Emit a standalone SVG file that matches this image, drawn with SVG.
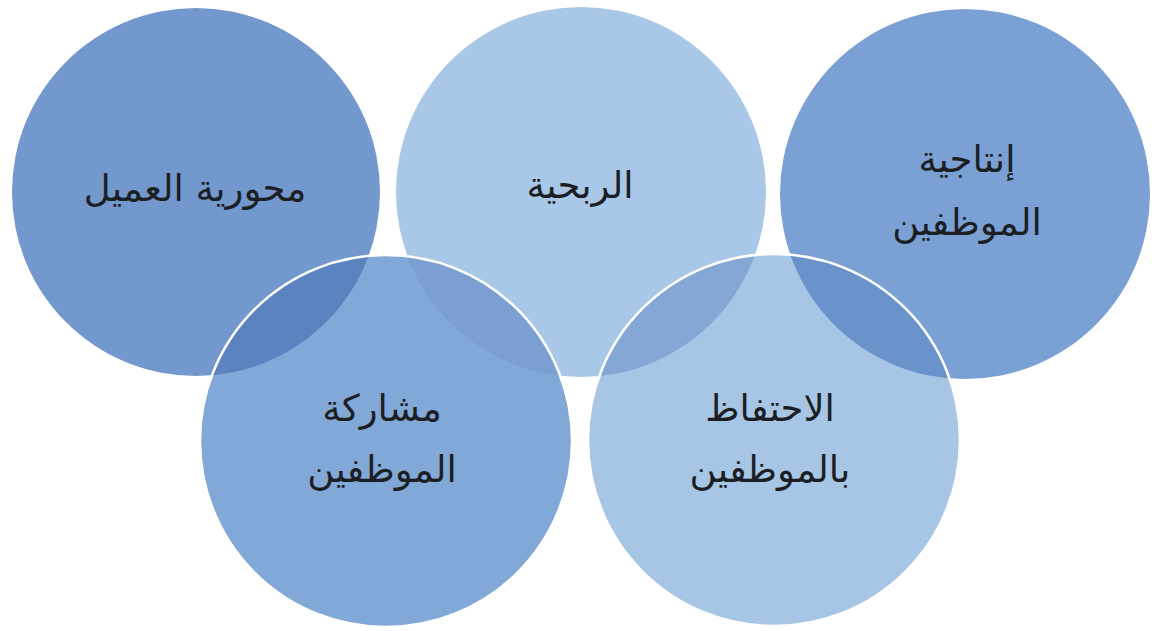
<svg xmlns="http://www.w3.org/2000/svg" width="1154" height="631" viewBox="0 0 1154 631">
<style>
.lbl{font-family:"DejaVu Sans","Liberation Sans",sans-serif;font-size:37px;fill:#1b1f24;text-anchor:middle;direction:rtl}
.edge{fill:none;stroke:#ffffff;stroke-width:2.5}
</style>
<defs>
<clipPath id="c1"><circle cx="196" cy="192" r="184"/></clipPath>
<clipPath id="c2"><circle cx="581" cy="192" r="185"/></clipPath>
<clipPath id="c3"><circle cx="965" cy="194" r="185"/></clipPath>
</defs>
<rect width="1154" height="631" fill="#ffffff"/>
<g id="node-customer"><circle cx="196" cy="192" r="184" fill="#7298cd"/><text class="lbl" x="195" y="201">محورية العميل</text></g>
<g id="node-profit"><circle cx="581" cy="192" r="185" fill="#a9c8e7"/><text class="lbl" x="580" y="198">الربحية</text></g>
<g id="node-productivity"><circle cx="965" cy="194" r="185" fill="#7aa0d4"/><text class="lbl" x="967" y="172">إنتاجية</text><text class="lbl" x="967" y="235">الموظفين</text></g>
<g id="node-engagement"><circle cx="386" cy="441" r="186" fill="#82a8d7"/>
<circle cx="386" cy="441" r="186" fill="#5b83c0" clip-path="url(#c1)"/>
<circle cx="386" cy="441" r="186" fill="#7b9fd1" clip-path="url(#c2)"/>
<text class="lbl" x="382" y="421">مشاركة</text><text class="lbl" x="382" y="482">الموظفين</text></g>
<g id="node-retention"><circle cx="774" cy="440" r="186" fill="#a7c5e5"/>
<circle cx="774" cy="440" r="186" fill="#84a7d6" clip-path="url(#c2)"/>
<circle cx="774" cy="440" r="186" fill="#6b93cb" clip-path="url(#c3)"/>
<text class="lbl" x="770" y="421">الاحتفاظ</text><text class="lbl" x="770" y="482">بالموظفين</text></g>
<g id="connectors">
<circle class="edge" cx="386" cy="441" r="186"/>
<circle class="edge" cx="774" cy="440" r="186"/>
</g>
</svg>
